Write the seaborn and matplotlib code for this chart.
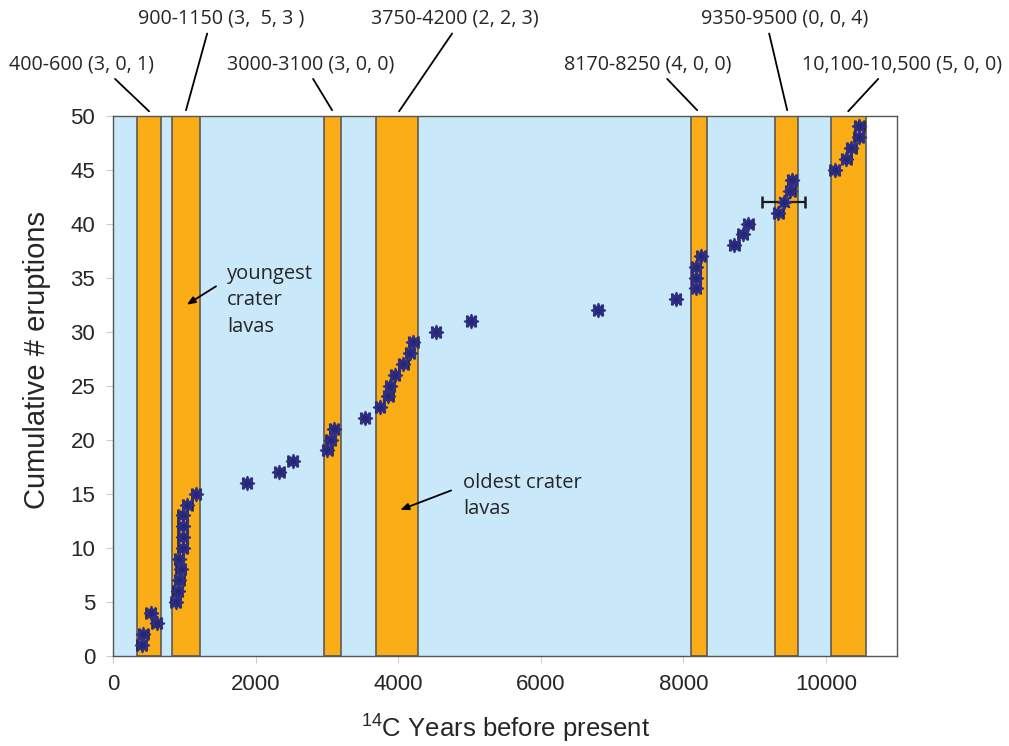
import numpy as np
import pandas as pd
import matplotlib
matplotlib.use("Agg")
import matplotlib.pyplot as plt
import seaborn as sns

# cumulative eruption count vs 14C age (years BP)
years = [399, 421, 609, 525, 876, 904, 926, 946, 922, 974, 974, 974, 974, 1039, 1161,
         1876, 2330, 2518, 3004, 3051, 3098, 3533, 3743, 3860, 3884, 3954, 4070, 4164,
         4211, 4529, 5016, 6803, 7898, 8178, 8178, 8178, 8244, 8712, 8828, 8912, 9333,
         9404, 9498, 9522, 10119, 10284, 10354, 10456, 10466]
eruptions = list(range(1, 50))
age_err = [60] * 49
age_err[41] = 300  # the one wide error bar near 9400

# orange eruption-cluster bands
band_start = [330, 820, 2950, 3680, 8110, 9290, 10075]
band_end = [670, 1220, 3200, 4270, 8330, 9610, 10560]
band_labels = ["400-600 (3, 0, 1)", "900-1150 (3,  5, 3 )", "3000-3100 (3, 0, 0)",
               "3750-4200 (2, 2, 3)", "8170-8250 (4, 0, 0)", "9350-9500 (0, 0, 4)",
               "10,100-10,500 (5, 0, 0)"]
# label text centre, leader line start and end (data coords, above the axes)
label_x = [-453, 1512, 2775, 4796, 7504, 9414, 11069]
label_y = [54.7, 59.0, 54.7, 59.0, 54.7, 59.0, 54.7]
line_x0 = [24, 1317, 2803, 4753, 7771, 9202, 10732]
line_y0 = [53.4, 57.6, 53.4, 57.6, 53.4, 57.6, 53.4]
line_x1 = [502, 1020, 3070, 4010, 8192, 9455, 10311]
line_y1 = [50.4, 50.5, 50.5, 50.4, 50.5, 50.5, 50.4]

df = pd.DataFrame({"years": years, "eruptions": eruptions, "err": age_err})

sns.set_style("white")
plt.rcParams["font.family"] = ["Liberation Sans", "DejaVu Sans"]
plt.rcParams["mathtext.fontset"] = "custom"
plt.rcParams["mathtext.rm"] = "Liberation Sans"

fig = plt.figure(figsize=(10.09, 7.46), dpi=100)
ax = fig.add_axes([0.1123, 0.121, 0.777, 0.724])
ax.set_facecolor("white")

ax.axvspan(0, 10560, color="#c9e9fa", zorder=0, lw=0)
for s, e in zip(band_start, band_end):
    ax.axvspan(s, e, facecolor="#fbad18", edgecolor="#5a5a5a", lw=1.2, zorder=1)

ax.errorbar(df["years"], df["eruptions"], xerr=df["err"], fmt="none",
            ecolor="#1a1a1a", elinewidth=1.6, capsize=4, capthick=1.8, zorder=3)
sns.scatterplot(data=df, x="years", y="eruptions", ax=ax, marker=(8, 1, 0), s=95,
                color="#262673", edgecolor="#2e2e88", linewidth=1.4, zorder=4)

ax.set_xlim(0, 11000)
ax.set_ylim(0, 50)
ax.set_xticks([0, 2000, 4000, 6000, 8000, 10000])
ax.set_yticks(range(0, 51, 5))
ax.tick_params(axis="both", labelsize=16, length=5, color="#cccccc", direction="out",
               bottom=True, left=True, pad=8)
for sp in ax.spines.values():
    sp.set_color("#555555")
    sp.set_linewidth(1.0)

ax.set_xlabel(r"$\mathregular{^{14}}$C Years before present", fontsize=18.5, labelpad=13)
ax.set_ylabel("Cumulative # eruptions", fontsize=21)
ax.yaxis.set_label_coords(-0.079, 0.548)

tfont = ["Open Sans", "DejaVu Sans"]
for lab, tx, ty, x0, y0, x1, y1 in zip(band_labels, label_x, label_y, line_x0, line_y0, line_x1, line_y1):
    ax.text(tx, ty, lab, ha="center", va="center", fontsize=14.2, family=tfont, clip_on=False)
    ax.annotate("", xy=(x1, y1), xytext=(x0, y0), annotation_clip=False,
                arrowprops=dict(arrowstyle="-", color="black", lw=1.3, shrinkA=0, shrinkB=0))

ax.text(1592, 36.3, "youngest\ncrater\nlavas", ha="left", va="top", fontsize=14.5,
        family=tfont, linespacing=1.45)
ax.annotate("", xy=(1030, 32.5), xytext=(1441, 34.2),
            arrowprops=dict(arrowstyle="-|>,head_length=0.5,head_width=0.2", color="black",
                            lw=1.3, shrinkA=0, shrinkB=0))
ax.text(4904, 16.9, "oldest crater\nlavas", ha="left", va="top", fontsize=14.5,
        family=tfont, linespacing=1.42)
ax.annotate("", xy=(4025, 13.5), xytext=(4740, 15.3),
            arrowprops=dict(arrowstyle="-|>,head_length=0.5,head_width=0.2", color="black",
                            lw=1.3, shrinkA=0, shrinkB=0))

fig.savefig("out.png", dpi=100)
